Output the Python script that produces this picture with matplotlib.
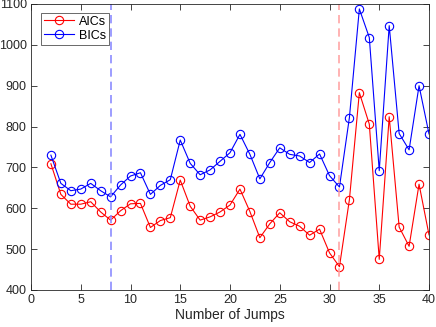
import matplotlib
matplotlib.use("Agg")
import matplotlib.pyplot as plt

# dados
jumps = list(range(2, 41))
aics = [709, 634, 610, 610, 616, 591, 571, 594, 611, 612, 553, 570, 577, 669,
        605, 571, 579, 591, 608, 647, 592, 528, 562, 589, 567, 556, 534, 549,
        491, 457, 621, 883, 806, 475, 824, 554, 507, 659, 535]
bics = [730, 661, 643, 647, 661, 643, 628, 657, 679, 687, 634, 656, 670, 767,
        710, 682, 694, 715, 736, 781, 732, 672, 712, 748, 732, 728, 712, 733,
        680, 652, 822, 1088, 1018, 692, 1047, 783, 743, 900, 782]
best_aic = 31
best_bic = 8

plt.rcParams['font.family'] = ['Liberation Sans', 'DejaVu Sans']

fig = plt.figure(figsize=(4.36, 3.27), dpi=100)
ax = fig.add_axes([31 / 436, 1 - 290 / 327, 398 / 436, 286 / 327])

ax.plot(jumps, aics, color='red', marker='o', markersize=6, markerfacecolor='none',
        linewidth=0.8, markeredgewidth=0.8, label='AICs')
ax.plot(jumps, bics, color='blue', marker='o', markersize=6, markerfacecolor='none',
        linewidth=0.8, markeredgewidth=0.8, label='BICs')

ax.axvline(best_bic, color=(0.55, 0.55, 1.0), linestyle=(0, (5, 3)), linewidth=1.2)
ax.axvline(best_aic, color=(1.0, 0.65, 0.65), linestyle=(0, (5, 3)), linewidth=1.2)

ax.set_xlim(0, 40)
ax.set_ylim(400, 1100)
ax.set_xticks(range(0, 41, 5))
ax.set_yticks(range(400, 1101, 100))
ax.tick_params(direction='in', top=True, right=True, labelsize=9, length=4,
               width=0.6, colors='#262626', pad=3)
for s in ax.spines.values():
    s.set_linewidth(0.6)
    s.set_color('#262626')
ax.set_xlabel('Number of Jumps', fontsize=10, color='#262626', labelpad=1)

leg = ax.legend(loc='upper left', fontsize=9, fancybox=False, edgecolor='#262626',
                borderpad=0.25, handlelength=2.4, handletextpad=0.4,
                labelspacing=0.15, borderaxespad=0,
                bbox_to_anchor=(0.025, 0.97))
leg.get_frame().set_linewidth(0.6)

plt.savefig('out.png', dpi=100)
